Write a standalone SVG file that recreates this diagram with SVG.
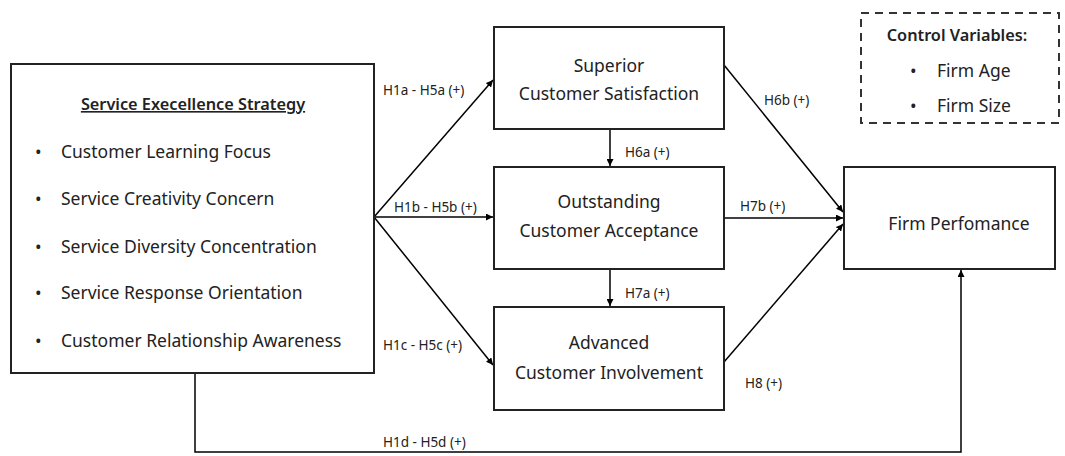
<svg xmlns="http://www.w3.org/2000/svg" width="1065" height="456" viewBox="0 0 1065 456">
<defs>
<marker id="ah" viewBox="0 0 10 10" refX="10" refY="5" markerWidth="7" markerHeight="7" markerUnits="userSpaceOnUse" orient="auto">
<path d="M0,0 L10,5 L0,10 z" fill="#000"/>
</marker>
<style>
.box{fill:#fff;stroke:#222;stroke-width:2}
.dash{fill:none;stroke:#333;stroke-width:2;stroke-dasharray:8,6}
.t{font-family:"Noto Sans","Open Sans",sans-serif;font-size:17.5px;fill:#222}
.m{text-anchor:middle}
.lbl{font-family:"Noto Sans","Open Sans",sans-serif;font-size:13.5px;fill:#222}
.b{font-weight:600;font-size:16.3px}
.c{fill:none;stroke:#000;stroke-width:1.5}
</style>
</defs>
<rect width="1065" height="456" fill="#fff"/>
<g id="connectors">
<path class="c" d="M374,217 L493,80" marker-end="url(#ah)"/>
<path class="c" d="M374,217 L493,217" marker-end="url(#ah)"/>
<path class="c" d="M374,217 L493,365" marker-end="url(#ah)"/>
<path class="c" d="M610,129 L610,166" marker-end="url(#ah)"/>
<path class="c" d="M610,269 L610,306" marker-end="url(#ah)"/>
<path class="c" d="M724,65 L843,212" marker-end="url(#ah)"/>
<path class="c" d="M724,218 L843,218" marker-end="url(#ah)"/>
<path class="c" d="M724,362 L843,224" marker-end="url(#ah)"/>
<path class="c" d="M195,373 L195,452 L961,452 L961,270" marker-end="url(#ah)"/>
<text class="lbl" x="383" y="95">H1a - H5a (+)</text>
<text class="lbl" x="394" y="212">H1b - H5b (+)</text>
<text class="lbl" x="383" y="350">H1c - H5c (+)</text>
<text class="lbl" x="383" y="447">H1d - H5d (+)</text>
<text class="lbl" x="625" y="157">H6a (+)</text>
<text class="lbl" x="625" y="298">H7a (+)</text>
<text class="lbl" x="764" y="105">H6b (+)</text>
<text class="lbl" x="740" y="211">H7b (+)</text>
<text class="lbl" x="745" y="388">H8 (+)</text>
</g>
<g id="strategy">
<rect class="box" x="11" y="64" width="363" height="309"/>
<text class="t m b" x="193" y="110" text-decoration="underline">Service Execellence Strategy</text>
<text class="t" x="35" y="158">•</text><text class="t" x="61" y="158">Customer Learning Focus</text>
<text class="t" x="35" y="205">•</text><text class="t" x="61" y="205">Service Creativity Concern</text>
<text class="t" x="35" y="253">•</text><text class="t" x="61" y="253">Service Diversity Concentration</text>
<text class="t" x="35" y="299">•</text><text class="t" x="61" y="299">Service Response Orientation</text>
<text class="t" x="35" y="347">•</text><text class="t" x="61" y="347">Customer Relationship Awareness</text>
</g>
<g id="satisfaction">
<rect class="box" x="494" y="27" width="230" height="102"/>
<text class="t m" x="609" y="72">Superior</text>
<text class="t m" x="609" y="100">Customer Satisfaction</text>
</g>
<g id="acceptance">
<rect class="box" x="494" y="167" width="230" height="102"/>
<text class="t m" x="609" y="208">Outstanding</text>
<text class="t m" x="609" y="237">Customer Acceptance</text>
</g>
<g id="involvement">
<rect class="box" x="494" y="307" width="230" height="103"/>
<text class="t m" x="609" y="349">Advanced</text>
<text class="t m" x="609" y="379">Customer Involvement</text>
</g>
<g id="performance">
<rect class="box" x="844" y="167" width="211" height="102"/>
<text class="t m" x="959" y="230">Firm Perfomance</text>
</g>
<g id="control">
<rect class="dash" x="861" y="13" width="198" height="110"/>
<text class="t m b" x="957" y="41">Control Variables:</text>
<text class="t" x="910" y="77">•</text><text class="t" x="937" y="77">Firm Age</text>
<text class="t" x="910" y="112">•</text><text class="t" x="937" y="112">Firm Size</text>
</g>
</svg>
